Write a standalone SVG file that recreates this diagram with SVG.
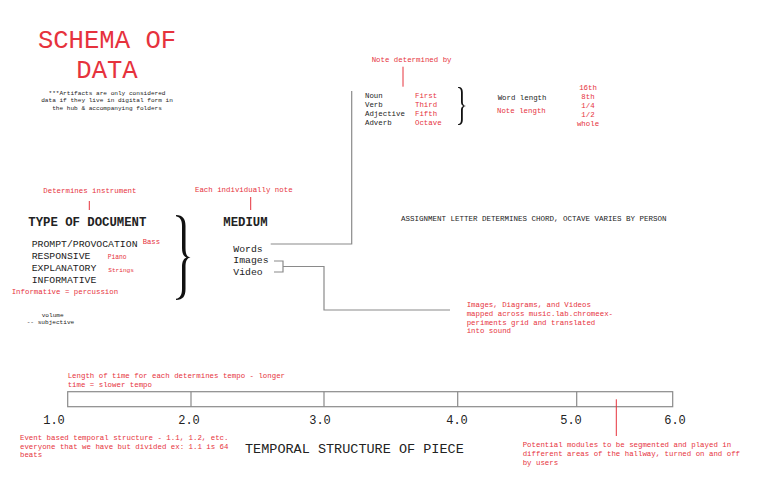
<svg xmlns="http://www.w3.org/2000/svg" width="759" height="490" viewBox="0 0 759 490">
<style>
text{font-family:"Liberation Mono","DejaVu Sans Mono",monospace;fill:#222}
.r{fill:#e6323d}
.s74{font-size:7.4px}
.s61{font-size:6.1px}
.lst{font-size:9.8px}
.hd{font-size:12.3px;font-weight:bold}
.num{font-size:12px}
.c{text-anchor:middle}
.con{fill:none;stroke:#8a8a8a;stroke-width:1.2}
.tick{fill:none;stroke:#e6323d;stroke-width:1}
.brace{fill:#111}
</style>
<rect width="759" height="490" fill="#fff"/>

<g id="title">
<text class="r c" x="107" y="47.7" style="font-size:25.6px">SCHEMA OF</text>
<text class="r c" x="107" y="78.3" style="font-size:25.6px">DATA</text>
</g>

<g id="artifacts-note">
<text class="s61 c" x="107" y="95">***Artifacts are only considered</text>
<text class="s61 c" x="107" y="102.3">data if they live in digital form in</text>
<text class="s61 c" x="107" y="110">the hub &amp; accompanying folders</text>
</g>

<g id="type-of-document">
<text class="r s74" x="43.3" y="193.3">Determines instrument</text>
<text class="hd" x="28.3" y="226">TYPE OF DOCUMENT</text>
<text class="lst" x="31.7" y="246.7">PROMPT/PROVOCATION</text>
<text class="lst" x="31.7" y="258.7">RESPONSIVE</text>
<text class="lst" x="31.7" y="270.7">EXPLANATORY</text>
<text class="lst" x="31.7" y="282.7">INFORMATIVE</text>
<text class="r" x="142.7" y="244.3" style="font-size:7.2px">Bass</text>
<text class="r" x="107.7" y="259.3" style="font-size:6.3px">Piano</text>
<text class="r" x="108.3" y="272.3" style="font-size:6.1px">Strings</text>
<text class="r s74" x="11.7" y="294.3">Informative = percussion</text>
<text class="s61" x="41.7" y="316.7">volume</text>
<text class="s61" x="26.7" y="324">-- subjective</text>
<path class="brace" d="M176,215 C183,215 185.5,219 185.5,226 L185.5,248 C185.5,254 187,257 190.5,257.5 C187,258 185.5,261 185.5,267 L185.5,289 C185.5,296 183,300 176,300 L176,298.8 C180,298 182,295 182,289 L182,267 C182,261 184,258.5 186.5,257.5 C184,256.5 182,254 182,248 L182,226 C182,220 180,217 176,216.2 Z"/>
</g>

<g id="medium">
<text class="r s74" x="195" y="192.3">Each individually note</text>
<text class="hd" x="223.3" y="226">MEDIUM</text>
<text class="lst" x="233.3" y="251.7">Words</text>
<text class="lst" x="233.3" y="263.3">Images</text>
<text class="lst" x="233.3" y="275">Video</text>
</g>

<g id="word-classes">
<text class="r s74" x="371.7" y="61.7">Note determined by</text>
<text class="s74" x="365" y="97.7">Noun</text>
<text class="s74" x="365" y="106.7">Verb</text>
<text class="s74" x="365" y="115.7">Adjective</text>
<text class="s74" x="365" y="124.7">Adverb</text>
<text class="r s74" x="415" y="97.7">First</text>
<text class="r s74" x="415" y="106.7">Third</text>
<text class="r s74" x="415" y="115.7">Fifth</text>
<text class="r s74" x="415" y="124.7">Octave</text>
<path class="brace" d="M458,87 C461.8,87 462.8,89 462.8,92.5 L462.8,102 C462.8,104.5 463.8,105.8 466.2,106 C463.8,106.2 462.8,107.5 462.8,110 L462.8,119.5 C462.8,123 461.8,125 458,125 L458,124.2 C460,124 461,122.5 461,119.5 L461,110 C461,107.5 462,106.5 463.6,106 C462,105.5 461,104.5 461,102 L461,92.5 C461,89.5 460,88 458,87.8 Z"/>
</g>

<g id="word-length">
<text class="s74" x="497.7" y="100">Word length</text>
<text class="r s74" x="497" y="113.3">Note length</text>
<text class="r s74 c" x="588" y="90">16th</text>
<text class="r s74 c" x="588" y="99">8th</text>
<text class="r s74 c" x="588" y="108">1/4</text>
<text class="r s74 c" x="588" y="117">1/2</text>
<text class="r s74 c" x="588" y="126">whole</text>
</g>

<g id="assignment">
<text class="s74" x="401" y="221" style="font-size:7.5px">ASSIGNMENT LETTER DETERMINES CHORD, OCTAVE VARIES BY PERSON</text>
</g>

<g id="images-note">
<text class="r s74" x="466.7" y="307.3">Images, Diagrams, and Videos</text>
<text class="r s74" x="466.7" y="316">mapped across music.lab.chromeex-</text>
<text class="r s74" x="466.7" y="324.7">periments grid and translated</text>
<text class="r s74" x="466.7" y="333.4">into sound</text>
</g>

<g id="timeline">
<text class="r s74" x="67.7" y="377.7">Length of time for each determines tempo - longer</text>
<text class="r s74" x="67.7" y="386.7">time = slower tempo</text>
<rect x="67.7" y="391.7" width="605" height="15" fill="none" stroke="#8a8a8a" stroke-width="1.2"/>
<path class="con" d="M191,391.7V406.7M324,391.7V406.7M457.7,391.7V406.7M576.7,391.7V406.7"/>
<text class="num c" x="54" y="424">1.0</text>
<text class="num c" x="189" y="424">2.0</text>
<text class="num c" x="320" y="424">3.0</text>
<text class="num c" x="457" y="424">4.0</text>
<text class="num c" x="571" y="424">5.0</text>
<text class="num c" x="675" y="424">6.0</text>
<text class="r s74" x="20" y="440">Event based temporal structure - 1.1, 1.2, etc.</text>
<text class="r s74" x="20" y="448.7">everyone that we have but divided ex: 1.1 is 64</text>
<text class="r s74" x="20" y="457.4">beats</text>
<text x="245" y="452.7" style="font-size:13.5px">TEMPORAL STRUCTURE OF PIECE</text>
<text class="r s74" x="522.7" y="447.3">Potential modules to be segmented and played in</text>
<text class="r s74" x="522.7" y="456">different areas of the hallway, turned on and off</text>
<text class="r s74" x="522.7" y="464.7">by users</text>
</g>

<g id="connectors">
<path class="tick" d="M89.3,201V210"/>
<path class="tick" d="M250.7,197V210"/>
<path class="tick" d="M403,66.7V86.7"/>
<path class="tick" d="M616.3,399.3V436"/>
<path class="con" d="M270.7,244H351.7V91"/>
<path class="con" d="M274,261H283V272H274M283,266.5H324V310H450"/>
</g>
</svg>
